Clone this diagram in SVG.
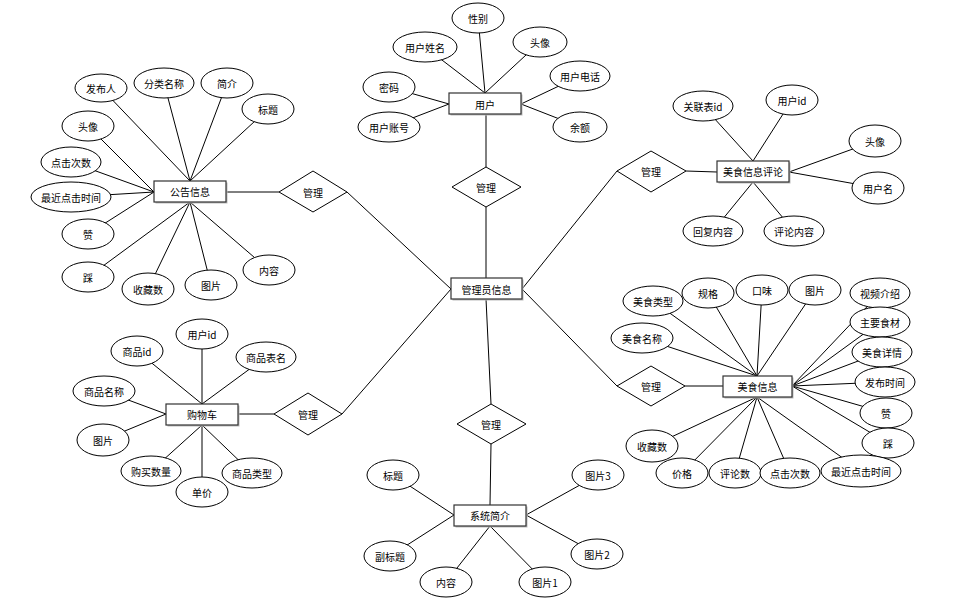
<svg xmlns="http://www.w3.org/2000/svg" width="970" height="610" viewBox="0 0 970 610">
<style>
.c line{stroke:#000;stroke-width:1;fill:none}
ellipse{fill:#fff;stroke:#000;stroke-width:1}
.e rect.s{fill:#bbb;stroke:none}
.e rect.b{fill:#fff;stroke:#333;stroke-width:1.2}
polygon{fill:#fff;stroke:#000;stroke-width:1}
text{font-family:"Noto Sans CJK SC","Liberation Sans",sans-serif;font-size:10px;text-anchor:middle;dominant-baseline:central;fill:#000}
</style>
<rect width="970" height="610" fill="#fff"/>
<g class="c" id="connectors">
<line x1="486" y1="207" x2="486" y2="278"/>
<line x1="347" y1="192" x2="451" y2="289"/>
<line x1="342" y1="414" x2="451" y2="289"/>
<line x1="486" y1="299" x2="491" y2="404"/>
<line x1="617" y1="171" x2="522" y2="289"/>
<line x1="617" y1="386" x2="522" y2="289"/>
<line x1="486" y1="114" x2="486" y2="167"/>
<line x1="226" y1="192" x2="279" y2="192"/>
<line x1="238" y1="414" x2="274" y2="414"/>
<line x1="491" y1="444" x2="490" y2="505"/>
<line x1="686" y1="171" x2="717" y2="172"/>
<line x1="685" y1="386" x2="723" y2="386"/>
<line x1="190" y1="181" x2="101" y2="88"/>
<line x1="190" y1="181" x2="164" y2="83"/>
<line x1="190" y1="181" x2="227" y2="83"/>
<line x1="190" y1="181" x2="268" y2="109"/>
<line x1="154" y1="192" x2="88" y2="126"/>
<line x1="154" y1="192" x2="71" y2="162"/>
<line x1="154" y1="192" x2="71" y2="197"/>
<line x1="154" y1="192" x2="88" y2="234"/>
<line x1="190" y1="202" x2="88" y2="277"/>
<line x1="190" y1="202" x2="148" y2="289"/>
<line x1="190" y1="202" x2="211" y2="285"/>
<line x1="190" y1="202" x2="269" y2="270"/>
<line x1="485" y1="93" x2="478" y2="18"/>
<line x1="485" y1="93" x2="425" y2="47"/>
<line x1="485" y1="93" x2="540" y2="42"/>
<line x1="449" y1="104" x2="389" y2="87"/>
<line x1="449" y1="104" x2="389" y2="127"/>
<line x1="521" y1="104" x2="580" y2="76"/>
<line x1="521" y1="104" x2="580" y2="127"/>
<line x1="753" y1="161" x2="703" y2="106"/>
<line x1="753" y1="161" x2="792" y2="100"/>
<line x1="789" y1="172" x2="875" y2="141"/>
<line x1="789" y1="172" x2="878" y2="188"/>
<line x1="753" y1="182" x2="713" y2="231"/>
<line x1="753" y1="182" x2="794" y2="231"/>
<line x1="757" y1="376" x2="653" y2="301"/>
<line x1="757" y1="376" x2="708" y2="293"/>
<line x1="757" y1="376" x2="762" y2="290"/>
<line x1="757" y1="376" x2="815" y2="290"/>
<line x1="757" y1="376" x2="642" y2="338"/>
<line x1="792" y1="386" x2="880" y2="293"/>
<line x1="792" y1="386" x2="880" y2="322"/>
<line x1="792" y1="386" x2="882" y2="352"/>
<line x1="792" y1="386" x2="885" y2="382"/>
<line x1="792" y1="386" x2="886" y2="413"/>
<line x1="792" y1="386" x2="888" y2="443"/>
<line x1="757" y1="397" x2="652" y2="446"/>
<line x1="757" y1="397" x2="682" y2="473"/>
<line x1="757" y1="397" x2="735" y2="473"/>
<line x1="757" y1="397" x2="790" y2="473"/>
<line x1="757" y1="397" x2="861" y2="471"/>
<line x1="202" y1="404" x2="137" y2="351"/>
<line x1="202" y1="404" x2="202" y2="334"/>
<line x1="202" y1="404" x2="266" y2="357"/>
<line x1="166" y1="414" x2="104" y2="391"/>
<line x1="166" y1="414" x2="103" y2="440"/>
<line x1="202" y1="425" x2="151" y2="471"/>
<line x1="202" y1="425" x2="202" y2="492"/>
<line x1="202" y1="425" x2="252" y2="473"/>
<line x1="454" y1="515" x2="393" y2="475"/>
<line x1="454" y1="515" x2="390" y2="556"/>
<line x1="490" y1="526" x2="446" y2="582"/>
<line x1="490" y1="526" x2="545" y2="582"/>
<line x1="526" y1="515" x2="597" y2="554"/>
<line x1="526" y1="515" x2="598" y2="475"/>
</g>

<g class="e" id="admin"><rect class="s" x="452.5" y="279.5" width="71" height="21"/><rect class="b" x="451" y="278" width="71" height="21"/><text x="486.5" y="289">管理员信息</text></g>
<g class="e" id="user"><rect class="s" x="450.5" y="94.5" width="72" height="21"/><rect class="b" x="449" y="93" width="72" height="21"/><text x="485" y="104">用户</text></g>
<g class="e" id="notice"><rect class="s" x="155.5" y="182.5" width="72" height="21"/><rect class="b" x="154" y="181" width="72" height="21"/><text x="190" y="191.5">公告信息</text></g>
<g class="e" id="cart"><rect class="s" x="167.5" y="405.5" width="72" height="21"/><rect class="b" x="166" y="404" width="72" height="21"/><text x="202" y="414.5">购物车</text></g>
<g class="e" id="intro"><rect class="s" x="455.5" y="506.5" width="72" height="21"/><rect class="b" x="454" y="505" width="72" height="21"/><text x="490" y="515.5">系统简介</text></g>
<g class="e" id="comment"><rect class="s" x="718.5" y="162.5" width="72" height="21"/><rect class="b" x="717" y="161" width="72" height="21"/><text x="753" y="171.5">美食信息评论</text></g>
<g class="e" id="food"><rect class="s" x="724.5" y="377.5" width="69" height="21"/><rect class="b" x="723" y="376" width="69" height="21"/><text x="757.5" y="386.5">美食信息</text></g>

<g id="rel-user"><polygon points="486,167 521,187 486,207 452,187"/><text x="486" y="187">管理</text></g>
<g id="rel-notice"><polygon points="313,171 347,192 313,212 279,192"/><text x="313" y="192">管理</text></g>
<g id="rel-cart"><polygon points="308,393 342,414 308,435 274,414"/><text x="308" y="414">管理</text></g>
<g id="rel-intro"><polygon points="491,404 526,424 491,444 457,424"/><text x="491" y="424">管理</text></g>
<g id="rel-comment"><polygon points="651,151 686,171 651,192 617,171"/><text x="651" y="171">管理</text></g>
<g id="rel-food"><polygon points="651,366 685,386 651,406 617,386"/><text x="651" y="386">管理</text></g>

<g id="n-a1"><ellipse cx="101" cy="88" rx="26" ry="14"/><text x="101" y="88">发布人</text></g>
<g id="n-a2"><ellipse cx="164" cy="83" rx="30" ry="15"/><text x="164" y="83">分类名称</text></g>
<g id="n-a3"><ellipse cx="227" cy="83" rx="26" ry="15"/><text x="227" y="83">简介</text></g>
<g id="n-a4"><ellipse cx="268" cy="109" rx="26" ry="15"/><text x="268" y="109">标题</text></g>
<g id="n-a5"><ellipse cx="88" cy="126" rx="26" ry="15"/><text x="88" y="126">头像</text></g>
<g id="n-a6"><ellipse cx="71" cy="162" rx="30" ry="15"/><text x="71" y="162">点击次数</text></g>
<g id="n-a7"><ellipse cx="71" cy="197" rx="40" ry="15"/><text x="71" y="197">最近点击时间</text></g>
<g id="n-a8"><ellipse cx="88" cy="234" rx="26" ry="15"/><text x="88" y="234">赞</text></g>
<g id="n-a9"><ellipse cx="88" cy="277" rx="26" ry="15"/><text x="88" y="277">踩</text></g>
<g id="n-a10"><ellipse cx="148" cy="289" rx="26" ry="16"/><text x="148" y="289">收藏数</text></g>
<g id="n-a11"><ellipse cx="211" cy="285" rx="26" ry="15"/><text x="211" y="285">图片</text></g>
<g id="n-a12"><ellipse cx="269" cy="270" rx="26" ry="15"/><text x="269" y="270">内容</text></g>

<g id="u-a1"><ellipse cx="478" cy="18" rx="26" ry="15"/><text x="478" y="18">性别</text></g>
<g id="u-a2"><ellipse cx="425" cy="47" rx="32" ry="15"/><text x="425" y="47">用户姓名</text></g>
<g id="u-a3"><ellipse cx="540" cy="42" rx="27" ry="15"/><text x="540" y="42">头像</text></g>
<g id="u-a4"><ellipse cx="580" cy="76" rx="30" ry="15"/><text x="580" y="76">用户电话</text></g>
<g id="u-a5"><ellipse cx="389" cy="87" rx="26" ry="15"/><text x="389" y="87">密码</text></g>
<g id="u-a6"><ellipse cx="389" cy="127" rx="31" ry="15"/><text x="389" y="127">用户账号</text></g>
<g id="u-a7"><ellipse cx="580" cy="127" rx="27" ry="15"/><text x="580" y="127">余额</text></g>

<g id="c-a1"><ellipse cx="703" cy="106" rx="30" ry="15"/><text x="703" y="106">关联表id</text></g>
<g id="c-a2"><ellipse cx="792" cy="100" rx="26" ry="15"/><text x="792" y="100">用户id</text></g>
<g id="c-a3"><ellipse cx="875" cy="141" rx="26" ry="16"/><text x="875" y="141">头像</text></g>
<g id="c-a4"><ellipse cx="878" cy="188" rx="26" ry="16"/><text x="878" y="188">用户名</text></g>
<g id="c-a5"><ellipse cx="713" cy="231" rx="30" ry="15"/><text x="713" y="231">回复内容</text></g>
<g id="c-a6"><ellipse cx="794" cy="231" rx="30" ry="15"/><text x="794" y="231">评论内容</text></g>

<g id="f-a1"><ellipse cx="653" cy="301" rx="30" ry="15"/><text x="653" y="301">美食类型</text></g>
<g id="f-a2"><ellipse cx="708" cy="293" rx="26" ry="15"/><text x="708" y="293">规格</text></g>
<g id="f-a3"><ellipse cx="762" cy="290" rx="26" ry="15"/><text x="762" y="290">口味</text></g>
<g id="f-a4"><ellipse cx="815" cy="290" rx="26" ry="15"/><text x="815" y="290">图片</text></g>
<g id="f-a5"><ellipse cx="642" cy="338" rx="31" ry="15"/><text x="642" y="338">美食名称</text></g>
<g id="f-a6"><ellipse cx="880" cy="293" rx="30" ry="15"/><text x="880" y="293">视频介绍</text></g>
<g id="f-a7"><ellipse cx="880" cy="322" rx="30" ry="15"/><text x="880" y="322">主要食材</text></g>
<g id="f-a8"><ellipse cx="882" cy="352" rx="30" ry="15"/><text x="882" y="352">美食详情</text></g>
<g id="f-a9"><ellipse cx="885" cy="382" rx="30" ry="15"/><text x="885" y="382">发布时间</text></g>
<g id="f-a10"><ellipse cx="886" cy="413" rx="26" ry="15"/><text x="886" y="413">赞</text></g>
<g id="f-a11"><ellipse cx="888" cy="443" rx="26" ry="15"/><text x="888" y="443">踩</text></g>
<g id="f-a12"><ellipse cx="652" cy="446" rx="26" ry="16"/><text x="652" y="446">收藏数</text></g>
<g id="f-a13"><ellipse cx="682" cy="473" rx="26" ry="15"/><text x="682" y="473">价格</text></g>
<g id="f-a14"><ellipse cx="735" cy="473" rx="26" ry="15"/><text x="735" y="473">评论数</text></g>
<g id="f-a15"><ellipse cx="790" cy="473" rx="30" ry="15"/><text x="790" y="473">点击次数</text></g>
<g id="f-a16"><ellipse cx="861" cy="471" rx="40" ry="16"/><text x="861" y="471">最近点击时间</text></g>

<g id="s-a1"><ellipse cx="137" cy="351" rx="26" ry="15"/><text x="137" y="351">商品id</text></g>
<g id="s-a2"><ellipse cx="202" cy="334" rx="26" ry="15"/><text x="202" y="334">用户id</text></g>
<g id="s-a3"><ellipse cx="266" cy="357" rx="30" ry="15"/><text x="266" y="357">商品表名</text></g>
<g id="s-a4"><ellipse cx="104" cy="391" rx="31" ry="15"/><text x="104" y="391">商品名称</text></g>
<g id="s-a5"><ellipse cx="103" cy="440" rx="26" ry="16"/><text x="103" y="440">图片</text></g>
<g id="s-a6"><ellipse cx="151" cy="471" rx="30" ry="15"/><text x="151" y="471">购买数量</text></g>
<g id="s-a7"><ellipse cx="202" cy="492" rx="26" ry="15"/><text x="202" y="492">单价</text></g>
<g id="s-a8"><ellipse cx="252" cy="473" rx="30" ry="15"/><text x="252" y="473">商品类型</text></g>

<g id="i-a1"><ellipse cx="393" cy="475" rx="26" ry="15"/><text x="393" y="475">标题</text></g>
<g id="i-a2"><ellipse cx="390" cy="556" rx="26" ry="15"/><text x="390" y="556">副标题</text></g>
<g id="i-a3"><ellipse cx="446" cy="582" rx="26" ry="15"/><text x="446" y="582">内容</text></g>
<g id="i-a4"><ellipse cx="545" cy="582" rx="26" ry="15"/><text x="545" y="582">图片1</text></g>
<g id="i-a5"><ellipse cx="597" cy="554" rx="26" ry="15"/><text x="597" y="554">图片2</text></g>
<g id="i-a6"><ellipse cx="598" cy="475" rx="26" ry="15"/><text x="598" y="475">图片3</text></g>
</svg>
